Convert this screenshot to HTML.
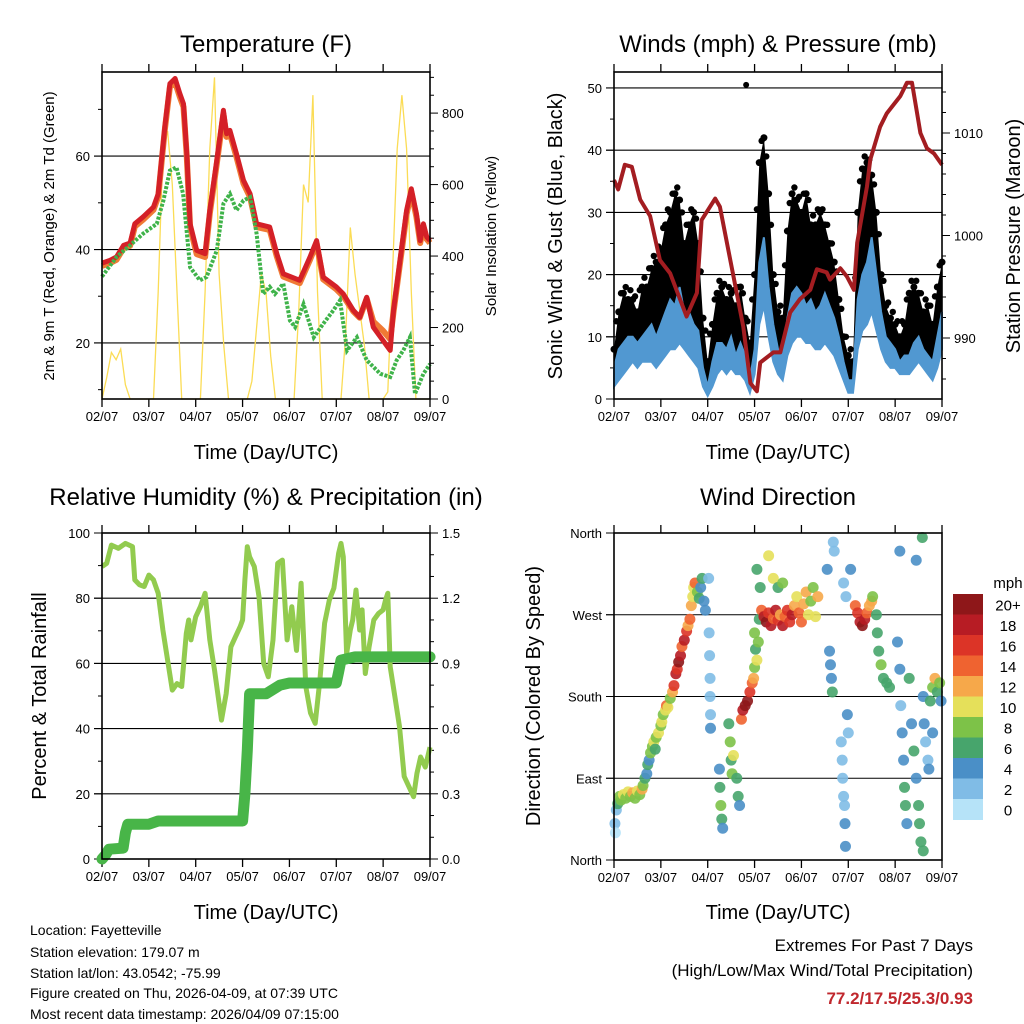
<!DOCTYPE html>
<html><head><meta charset="utf-8">
<style>
html,body{margin:0;padding:0;background:#fff;}
svg{display:block;font-family:"Liberation Sans",Arial,sans-serif;}
</style></head>
<body>
<svg id="root" width="1024" height="1024" viewBox="0 0 1024 1024" xmlns="http://www.w3.org/2000/svg">
<rect width="1024" height="1024" fill="#fff"/>
<g id="layer"></g>
<text x="266" y="52" font-size="24" text-anchor="middle">Temperature (F)</text>
<text x="778" y="52" font-size="24" text-anchor="middle">Winds (mph) &amp; Pressure (mb)</text>
<text x="266" y="505" font-size="24" text-anchor="middle">Relative Humidity (%) &amp; Precipitation (in)</text>
<text x="778" y="505" font-size="24" text-anchor="middle">Wind Direction</text>
<text x="266" y="459" font-size="20" text-anchor="middle">Time (Day/UTC)</text>
<text x="778" y="459" font-size="20" text-anchor="middle">Time (Day/UTC)</text>
<text x="266" y="919" font-size="20" text-anchor="middle">Time (Day/UTC)</text>
<text x="778" y="919" font-size="20" text-anchor="middle">Time (Day/UTC)</text>
<text transform="translate(54,236) rotate(-90)" font-size="15" text-anchor="middle">2m &amp; 9m T (Red, Orange) &amp; 2m Td (Green)</text>
<text transform="translate(496,236) rotate(-90)" font-size="15" text-anchor="middle">Solar Insolation (Yellow)</text>
<text transform="translate(562,236) rotate(-90)" font-size="20" text-anchor="middle">Sonic Wind &amp; Gust (Blue, Black)</text>
<text transform="translate(1020,236) rotate(-90)" font-size="20" text-anchor="middle">Station Pressure (Maroon)</text>
<text transform="translate(46,696) rotate(-90)" font-size="20" text-anchor="middle">Percent &amp; Total Rainfall</text>
<text transform="translate(540,696) rotate(-90)" font-size="20" text-anchor="middle">Direction (Colored By Speed)</text>
<text x="1008" y="588" font-size="15" text-anchor="middle">mph</text>
<g font-size="14">
<text x="30" y="935">Location: Fayetteville</text>
<text x="30" y="957">Station elevation: 179.07 m</text>
<text x="30" y="978">Station lat/lon: 43.0542; -75.99</text>
<text x="30" y="998">Figure created on Thu, 2026-04-09, at 07:39 UTC</text>
<text x="30" y="1019">Most recent data timestamp: 2026/04/09 07:15:00</text>
</g>
<g font-size="17" text-anchor="end">
<text x="973" y="951">Extremes For Past 7 Days</text>
<text x="973" y="976">(High/Low/Max Wind/Total Precipitation)</text>
<text x="973" y="1004" font-weight="bold" fill="#c0272d">77.2/17.5/25.3/0.93</text>
</g>
</svg>
<script>
// ---------- DATA ----------
const dayLabels = ["02/07","03/07","04/07","05/07","06/07","07/07","08/07","09/07"];
const tempTimes = [0,0.17,0.31,0.46,0.6,0.7,0.88,1.1,1.2,1.27,1.34,1.45,1.56,1.66,1.74,1.81,1.88,2.02,2.2,2.3,2.45,2.59,2.66,2.73,2.87,3.02,3.16,3.3,3.58,3.73,3.87,4.22,4.44,4.58,4.72,5.0,5.15,5.36,5.5,5.65,5.79,6.0,6.15,6.22,6.36,6.5,6.6,6.71,6.79,6.86,6.93,7.0];
const tempRed = [37.1,37.7,38.4,40.9,41.4,45.5,47.0,49.1,51.9,59.1,66.2,75.5,76.6,73.4,71.2,60.5,45.5,39.8,39.1,48.4,59.1,69.8,64.8,65.5,60.5,54.8,51.9,45.5,44.8,39.1,34.8,33.4,38.4,41.9,34.1,32.0,30.5,27.0,25.5,29.8,23.4,20.5,18.4,27.0,37.7,48.4,53.0,47.7,41.9,45.5,42.7,41.9];
const tempOrange = [36.5,37.1,37.8,40.3,40.8,44.9,46.4,48.5,51.3,58.5,65.6,74.8,75.8,72.7,70.5,59.8,44.8,39.0,38.4,47.7,58.4,69.0,64.1,64.8,59.8,54.1,51.2,44.8,44.2,38.5,34.2,32.8,37.8,41.3,33.6,31.5,30.0,26.8,25.4,29.5,24.6,22.6,20.8,26.6,37.0,47.6,52.3,47.0,41.4,44.9,42.2,41.4];
const dewTimes = [0,0.31,0.6,0.88,1.17,1.31,1.45,1.59,1.73,1.88,2.09,2.23,2.45,2.59,2.73,2.87,3.02,3.16,3.3,3.44,3.58,3.69,3.87,4.01,4.12,4.3,4.52,4.72,4.94,5.08,5.23,5.44,5.65,5.94,6.15,6.29,6.43,6.57,6.68,6.86,7.0];
const dewValues = [34.2,38.4,40.9,43.4,45.5,50.5,56.9,57.6,51.9,36.2,33.4,34.1,39.8,49.8,51.9,48.4,50.5,51.2,43.4,30.5,32.0,30.5,32.7,24.8,23.4,28.3,21.2,24.1,27.0,29.1,18.4,21.2,16.3,13.4,12.7,16.3,18.4,21.2,9.1,13.4,15.5];
const solarValues = [0,60,130,110,140,40,0,0,0,0,0,0,300,700,750,600,300,0,0,0,0,0,300,700,900,350,150,0,0,0,0,0,50,200,350,300,120,0,0,0,0,0,250,600,550,850,300,0,0,0,0,0,180,480,350,250,150,0,0,0,0,20,350,700,850,700,300,0,0,0,0];
const windValues = [5,8,9,10,10,9,10,11,12,10,12,14,16,15,18,14,14,12,11,5,2,6,9,9,8,10,7,9,7,3,8,22,26,18,12,8,7,13,17,18,17,15,16,14,15,17,15,13,10,6,3,3,16,20,22,26,20,14,10,9,8,6,7,7,9,10,8,7,6,10,14];
const windLowValues = [2,3,4,5,6,5,6,6,6,5,6,7,8,8,9,8,7,6,5,2,0.5,2,4,5,4,5,4,4,3,1,4,12,15,10,6,4,3,7,9,10,10,9,9,8,8,9,8,7,5,3,1,1,8,11,12,14,11,8,6,5,5,4,4,4,5,6,5,4,3,5,8];
const gustValues = [8,14,17,16,16,14,18,18,21,22,24,28,30,33,32,25,28,30,25,13,6,12,17,18,16,17,15,18,13,9,20,38,42,33,20,14,13,27,33,32,30,33,28,28,30,28,25,22,16,10,7,6,30,37,38,36,30,20,15,13,12,10,12,17,18,17,14,15,12,18,22];
const gustOutlierTime = 2.82, gustOutlierValue = 50.5;
const presTimes = [0,0.09,0.23,0.38,0.56,0.77,0.98,1.2,1.55,1.77,1.87,2.16,2.26,2.55,2.76,2.91,3.05,3.12,3.4,3.55,3.76,3.97,4.19,4.33,4.54,4.61,4.83,4.97,5.12,5.19,5.4,5.47,5.68,5.82,6.11,6.25,6.36,6.54,6.68,6.83,7.0];
const presValues = [1005.4,1004.5,1006.9,1006.7,1003.5,1001.9,997.6,996.3,992.1,994.4,1001.5,1003.6,1002.8,996.0,991.1,985.6,984.8,987.6,988.6,988.6,992.5,993.8,994.7,996.7,996.4,995.7,996.8,996.0,994.7,999.3,1004.8,1007.4,1010.6,1011.9,1013.6,1014.9,1014.9,1010.0,1008.5,1008.0,1006.9];
const rhTimes = [0,0.1,0.2,0.35,0.5,0.65,0.7,0.8,0.9,1.0,1.1,1.2,1.3,1.4,1.5,1.6,1.7,1.8,1.85,1.9,2.0,2.1,2.2,2.3,2.4,2.5,2.55,2.65,2.75,2.85,2.95,3.0,3.05,3.1,3.15,3.25,3.35,3.45,3.55,3.65,3.75,3.85,3.95,4.05,4.15,4.25,4.35,4.45,4.55,4.65,4.75,4.85,4.95,5.05,5.1,5.15,5.22,5.3,5.35,5.42,5.5,5.55,5.62,5.7,5.8,5.9,6.0,6.05,6.1,6.15,6.25,6.35,6.45,6.55,6.65,6.72,6.8,6.9,7.0];
const rhValues = [89.7,90.7,96.3,95.3,96.8,95.8,85.6,84.1,83.6,87.1,85.6,81.5,70.2,61.0,51.8,53.8,52.9,69.2,73.3,67.2,74.3,77.4,81.5,67.2,58.0,47.8,42.6,50.8,65.1,68.2,71.3,73.3,85.6,95.8,92.7,89.7,80.5,60.0,55.9,67.2,90.7,91.7,67.2,77.4,64.0,84.6,52.9,44.8,41.6,54.9,72.3,79.4,83.1,93.7,96.8,92.7,63.0,70.2,73.3,82.5,70.2,76.4,56.9,65.1,73.3,75.3,76.4,79.4,81.5,59.0,49.8,40.6,25.3,22.2,19.1,26.2,31.3,28.2,34.3];
const precipTimes = [0,0.08,0.15,0.45,0.5,0.55,1.0,1.2,3.0,3.05,3.1,3.15,3.5,3.8,4.0,5.0,5.05,5.1,5.4,7.0];
const precipValues = [0,0.02,0.045,0.05,0.12,0.16,0.16,0.175,0.175,0.3,0.5,0.76,0.76,0.80,0.81,0.81,0.86,0.915,0.93,0.93];
const dirTimes = [0.02,0.03,0.05,0.08,0.12,0.15,0.2,0.25,0.3,0.35,0.4,0.45,0.5,0.55,0.6,0.62,0.66,0.7,0.72,0.75,0.78,0.82,0.85,0.88,0.9,0.95,1.0,1.02,1.05,1.1,1.12,1.15,1.2,1.25,1.28,1.32,1.35,1.38,1.42,1.45,1.5,1.55,1.58,1.62,1.65,1.68,1.7,1.73,1.78,1.82,1.85,1.88,1.92,1.95,2.02,2.03,2.04,2.05,2.05,2.06,2.06,2.25,2.26,2.28,2.3,2.32,2.45,2.48,2.5,2.52,2.55,2.62,2.65,2.68,2.72,2.75,2.8,2.85,2.9,2.95,2.98,3.0,3.02,3.05,3.08,3.0,3.1,3.12,3.05,3.15,3.2,3.25,3.3,3.35,3.4,3.45,3.5,3.55,3.6,3.65,3.7,3.75,3.8,3.85,3.9,3.95,4.0,4.05,4.1,4.15,4.2,4.25,4.3,4.35,3.4,3.5,3.3,3.6,4.6,4.62,4.64,4.66,4.55,4.7,4.68,4.85,4.87,4.88,4.9,4.92,4.93,4.94,4.98,5.0,4.95,4.9,5.05,5.15,5.2,5.25,5.3,5.35,5.4,5.45,5.5,5.52,5.6,5.62,5.65,5.7,5.75,5.82,5.88,6.05,6.1,6.12,6.15,6.18,6.2,6.22,6.25,6.3,6.35,6.4,6.45,6.5,6.52,6.55,6.6,6.58,6.45,6.1,6.6,6.62,6.65,6.7,6.72,6.75,6.8,6.85,6.9,6.95,6.98,6.8];
const dirDegrees = [40,30,55,62,70,66,72,68,75,70,74,68,76,72,78,82,90,95,105,110,118,125,130,122,135,140,148,152,160,165,170,168,178,185,192,205,210,218,225,235,242,252,258,265,280,290,300,305,295,288,300,310,285,275,310,250,225,200,180,160,145,100,80,60,45,35,150,130,110,95,115,90,70,60,155,165,170,175,185,195,200,212,232,220,240,250,265,300,320,275,268,262,272,258,266,275,264,270,258,268,275,262,270,280,290,272,262,282,295,270,285,300,268,290,310,300,335,305,230,215,200,185,320,340,350,130,110,90,70,60,40,15,160,140,290,305,320,280,272,262,258,265,272,280,285,290,270,250,230,215,200,195,190,240,210,170,140,110,80,60,40,200,150,120,90,60,40,20,10,355,330,340,180,150,130,110,100,175,190,200,185,195,175,140];
const dirSpeeds = [2,0,2,6,8,8,10,8,10,8,12,8,10,8,12,8,6,4,6,4,8,8,10,6,8,10,8,10,8,10,14,10,8,12,16,18,16,20,18,14,18,16,12,14,12,10,10,14,8,6,4,6,4,4,2,2,2,2,2,2,4,4,6,8,6,4,6,8,6,8,10,6,6,4,14,18,20,20,16,14,12,8,6,10,8,8,6,6,6,14,18,20,16,18,14,18,16,12,18,14,16,16,18,12,10,14,14,12,12,10,8,8,10,12,10,6,10,8,4,4,4,6,4,2,2,2,2,2,2,2,4,4,4,2,2,2,4,14,16,18,20,18,14,12,12,8,6,6,6,8,6,6,6,4,4,2,4,4,6,6,4,6,4,6,4,6,6,6,6,6,4,4,4,4,2,2,4,6,8,12,6,8,4,4];
const colorLevels = ["0","2","4","6","8","10","12","14","16","18","20+"];
const colorFills = ["#b6e3f8","#80bce6","#4a8fc7","#47a56c","#7dc248","#e5e05a","#f6a84a","#ef6330","#dc3427","#b71c24","#8e1719"];

// ---------- HELPERS ----------
const NS = "http://www.w3.org/2000/svg";
const layer = document.getElementById("layer");
function mk(tag, attrs, parent){ const e=document.createElementNS(NS,tag); for(const k in attrs) e.setAttribute(k,attrs[k]); (parent||layer).appendChild(e); return e; }
function lin(d0,d1,r0,r1){ return v => r0 + (v-d0)/(d1-d0)*(r1-r0); }
function pathFrom(xs, ys){ let s=""; for(let i=0;i<xs.length;i++){ s += (i?"L":"M") + xs[i].toFixed(1)+","+ys[i].toFixed(1); } return s; }
function speedColor(s){ let i=Math.min(10,Math.max(0,Math.round(s/2))); return colorFills[i]; }

function frame(P, name){
  const g = mk("g",{});
  
  
  const xs = lin(0,7,P.x0,P.x1);
  for(let d=0; d<=7; d++){
    const x = xs(d);
    mk("line",{x1:x,y1:P.y1,x2:x,y2:P.y1+8,stroke:"#000","stroke-width":1.3},g);
    mk("line",{x1:x,y1:P.y0,x2:x,y2:P.y0-8,stroke:"#000","stroke-width":1.3},g);
    const t = mk("text",{x:x,y:P.y1+22,"font-size":13,"text-anchor":"middle"},g);
    
    
    t.textContent = dayLabels[d];
  }
  return g;
}
function box(P,g){ mk("rect",{x:P.x0,y:P.y0,width:P.x1-P.x0,height:P.y1-P.y0,fill:"none",stroke:"#000","stroke-width":1.6},g); }
function hgrid(P,g,y,label,side,major){
  if(major){ mk("line",{x1:P.x0-8,y1:y,x2:P.x1,y2:y,stroke:"#000","stroke-width":1.1},g); }
  if(label!==null){
    const t = mk("text",{x:side==="L"?P.x0-12:P.x1+12,y:y+5,"font-size":13,"text-anchor":side==="L"?"end":"start"},g);
    
    
    t.textContent = label;
  }
}
function tick(P,g,y,side,len){ const x = side==="L"?P.x0:P.x1; mk("line",{x1:x,y1:y,x2:side==="L"?x-len:x+len,y2:y,stroke:"#000","stroke-width":1},g); }

// ---------- PANEL 1: TEMPERATURE ----------
(function(){
  const P={x0:102,x1:430,y0:72,y1:399};
  const g = frame(P,'temperature-panel');
  const x = lin(0,7,P.x0,P.x1), y = lin(8,78,P.y1,P.y0), ys = lin(0,915,P.y1,P.y0);
  for(let v=10; v<=70; v+=10){ const major = v%20===0; tick(P,g,y(v),"L",major?8:4); if(major) hgrid(P,g,y(v),String(v),"L",true); }
  for(let v=0; v<=900; v+=50){ const major=v%200===0; tick(P,g,ys(v),"R",major?8:4); if(major) hgrid(P,g,ys(v),String(v),"R",false); }
  const solarT = solarValues.map((v,i)=>i*0.1);
  const s = mk("path",{d:pathFrom(solarT.map(x),solarValues.map(ys)),fill:"none",stroke:"#fbdc55","stroke-width":1.3},g);
  
  
  const o = mk("path",{d:pathFrom(tempTimes.map(x),tempOrange.map(y)),fill:"none",stroke:"#f07a35","stroke-width":6,"stroke-linejoin":"round"},g);
  
  
  const r = mk("path",{d:pathFrom(tempTimes.map(x),tempRed.map(y)),fill:"none",stroke:"#d42027","stroke-width":5,"stroke-linejoin":"round"},g);
  
  
  const gr = mk("path",{d:pathFrom(dewTimes.map(x),dewValues.map(y)),fill:"none",stroke:"#3fb34a","stroke-width":4,"stroke-dasharray":"3 1.5"},g);
  
  
  box(P,g);
})();

// ---------- PANEL 2: WINDS ----------
(function(){
  const P={x0:614,x1:942,y0:72,y1:399};
  const g = frame(P,'winds-panel');
  const x = lin(0,7,P.x0,P.x1), y = lin(0,52.57,P.y1,P.y0), yp = lin(984.05,1015.95,P.y1,P.y0);
  for(let v=0; v<=50; v+=5){ const major=v%10===0; tick(P,g,y(v),"L",major?8:4); if(major) hgrid(P,g,y(v),String(v),"L",v>0); }
  for(let v=986; v<=1014; v+=2){ const major=v%10===0; tick(P,g,yp(v),"R",major?8:4); if(major) hgrid(P,g,yp(v),String(v),"R",false); }
  const wt = gustValues.map((v,i)=>i*0.1);
  let d = pathFrom(wt.map(x),gustValues.map(y));
  const back = windValues.slice().reverse(), bt = wt.slice().reverse();
  for(let i=0;i<back.length;i++) d += "L"+x(bt[i]).toFixed(1)+","+y(back[i]).toFixed(1);
  const cloud = mk("path",{d:d+"Z",fill:"#000"},g);
  
  
  for(let i=0;i<gustValues.length;i++){
    const c = mk("circle",{cx:x(wt[i]),cy:y(gustValues[i]),r:3.5,fill:"#000"},g);
    
    
    if(i<gustValues.length-1){
      const c2 = mk("circle",{cx:x(wt[i]+0.05),cy:y((gustValues[i]+gustValues[i+1])/2+1.5),r:3.2,fill:"#000"},g);
      
      
    }
  }
  const oc = mk("circle",{cx:x(gustOutlierTime),cy:y(gustOutlierValue),r:3,fill:"#000"},g);
  
  
  let bd = pathFrom(wt.map(x),windValues.map(y));
  const lowR = windLowValues.slice().reverse();
  for(let i=0;i<lowR.length;i++) bd += "L"+x(bt[i]).toFixed(1)+","+y(lowR[i]).toFixed(1);
  const band = mk("path",{d:bd+"Z",fill:"#5198d1",stroke:"#5198d1","stroke-width":2},g);
  
  
  const pr = mk("path",{d:pathFrom(presTimes.map(x),presValues.map(yp)),fill:"none",stroke:"#a31d21","stroke-width":4,"stroke-linejoin":"round"},g);
  
  
  box(P,g);
})();

// ---------- PANEL 3: RH & PRECIP ----------
(function(){
  const P={x0:102,x1:430,y0:533,y1:859};
  const g = frame(P,'humidity-panel');
  const x = lin(0,7,P.x0,P.x1), y = lin(0,100,P.y1,P.y0), yr = lin(0,1.5,P.y1,P.y0);
  for(let v=0; v<=100; v+=10){ const major=v%20===0; tick(P,g,y(v),"L",major?8:4); if(major) hgrid(P,g,y(v),String(v),"L",v>0&&v<100); }
  for(let v=0; v<=15; v+=1){ const major=v%3===0; tick(P,g,yr(v/10),"R",major?8:4); if(major) hgrid(P,g,yr(v/10),(v/10).toFixed(1),"R",false); }
  const rh = mk("path",{d:pathFrom(rhTimes.map(x),rhValues.map(y)),fill:"none",stroke:"#92cb4f","stroke-width":5,"stroke-linejoin":"round"},g);
  
  
  const pc = mk("path",{d:pathFrom(precipTimes.map(x),precipValues.map(yr)),fill:"none",stroke:"#48b548","stroke-width":11,"stroke-linejoin":"round","stroke-linecap":"round"},g);
  
  
  box(P,g);
})();

// ---------- PANEL 4: WIND DIRECTION ----------
(function(){
  const P={x0:614,x1:942,y0:533,y1:860};
  const g = frame(P,'wind-direction-panel');
  const x = lin(0,7,P.x0,P.x1), y = lin(0,360,P.y1,P.y0);
  const names=["North","East","South","West","North"];
  for(let i=0;i<=4;i++){ tick(P,g,y(i*90),"L",8); hgrid(P,g,y(i*90),names[i],"L",true); }
  for(let i=0;i<dirTimes.length;i++){
    const c = mk("circle",{cx:x(dirTimes[i]),cy:y(dirDegrees[i]),r:5.5,fill:speedColor(dirSpeeds[i]),"fill-opacity":0.9},g);
    
    
  }
  box(P,g);
  const cb = mk("g",{});
  
  
  const h = 20.5, top = 594;
  for(let i=0;i<colorLevels.length;i++){
    const k = colorLevels.length-1-i;
    const r = mk("rect",{x:953,y:top+i*h,width:30,height:h+0.5,fill:colorFills[k]},cb);
    
    
    const t = mk("text",{x:1008,y:top+i*h+h/2+6,"font-size":15,"text-anchor":"middle"},cb);
    
    
    t.textContent = colorLevels[k];
  }
})();
</script>
</body></html>
